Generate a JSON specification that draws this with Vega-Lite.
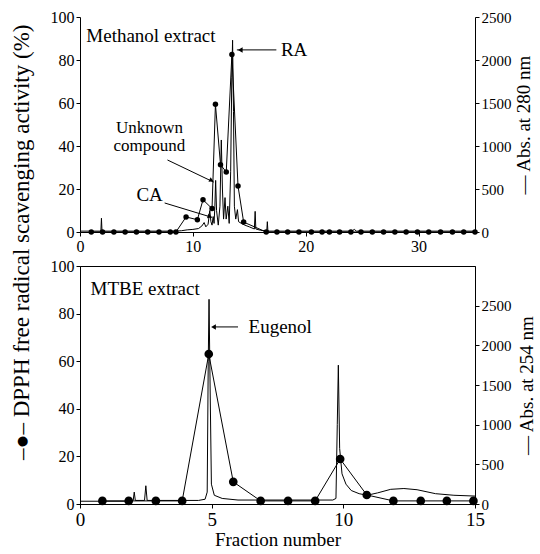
{
  "$schema": "https://vega.github.io/schema/vega-lite/v6.json",
  "background": "white",
  "padding": {"left": 10, "top": 9, "right": 0, "bottom": 0},
  "config": {
    "font": "Liberation Serif",
    "axis": {"domainColor": "black", "tickColor": "black", "labelColor": "black", "titleColor": "black", "grid": false, "labelFont": "Liberation Serif", "titleFont": "Liberation Serif", "labelFontSize": 16, "titleFontSize": 19, "titleFontWeight": "normal", "tickSize": 4},
    "text": {"font": "Liberation Serif", "color": "black"}
  },
  "title": {"text": "–●–  DPPH free radical scavenging activity (%)", "orient": "left", "anchor": "middle", "fontSize": 23, "font": "Liberation Serif", "fontWeight": "normal", "color": "black", "offset": 16, "dx": 37},
  "spacing": 3,
  "datasets": {
    "topAbs": [
      {"x": 0, "abs": 10}, {"x": 1.85, "abs": 10}, {"x": 1.9, "abs": 160}, {"x": 1.95, "abs": 10}, {"x": 8.5, "abs": 10}, {"x": 9.0, "abs": 15}, {"x": 9.5, "abs": 25}, {"x": 10.0, "abs": 30}, {"x": 10.5, "abs": 40}, {"x": 10.8, "abs": 70}, {"x": 11.0, "abs": 110}, {"x": 11.15, "abs": 60}, {"x": 11.35, "abs": 90}, {"x": 11.5, "abs": 250}, {"x": 11.6, "abs": 120}, {"x": 11.7, "abs": 80}, {"x": 11.8, "abs": 180}, {"x": 11.88, "abs": 100}, {"x": 11.95, "abs": 300}, {"x": 12.02, "abs": 600}, {"x": 12.1, "abs": 250}, {"x": 12.25, "abs": 80}, {"x": 12.4, "abs": 300}, {"x": 12.52, "abs": 1070}, {"x": 12.62, "abs": 500}, {"x": 12.72, "abs": 150}, {"x": 12.85, "abs": 400}, {"x": 12.95, "abs": 150}, {"x": 13.1, "abs": 300}, {"x": 13.22, "abs": 100}, {"x": 13.35, "abs": 700}, {"x": 13.45, "abs": 1800}, {"x": 13.52, "abs": 2230}, {"x": 13.6, "abs": 1400}, {"x": 13.68, "abs": 300}, {"x": 13.8, "abs": 150}, {"x": 13.95, "abs": 260}, {"x": 14.05, "abs": 120}, {"x": 14.3, "abs": 100}, {"x": 14.6, "abs": 80}, {"x": 15.0, "abs": 60}, {"x": 15.45, "abs": 35}, {"x": 15.52, "abs": 240}, {"x": 15.58, "abs": 35}, {"x": 16.0, "abs": 20}, {"x": 16.55, "abs": 10}, {"x": 16.6, "abs": 120}, {"x": 16.65, "abs": 10}, {"x": 24.1, "abs": 10}, {"x": 24.3, "abs": 30}, {"x": 24.5, "abs": 10}, {"x": 35, "abs": 10}
    ],
    "topDpph": [
      {"x": 1, "act": 0}, {"x": 2, "act": 0}, {"x": 3, "act": 0}, {"x": 4, "act": 0}, {"x": 5, "act": 0}, {"x": 6, "act": 0}, {"x": 7, "act": 0}, {"x": 8, "act": 0}, {"x": 8.5, "act": 0}, {"x": 9.4, "act": 7}, {"x": 10.4, "act": 5.7}, {"x": 10.9, "act": 15}, {"x": 11.7, "act": 10.9}, {"x": 12.0, "act": 59.4}, {"x": 12.45, "act": 31.3}, {"x": 12.96, "act": 27.9}, {"x": 13.46, "act": 82.6}, {"x": 14.0, "act": 21.4}, {"x": 14.5, "act": 4.6}, {"x": 16.5, "act": 0}, {"x": 17.45, "act": 0}, {"x": 18.4, "act": 0}, {"x": 19.4, "act": 0}, {"x": 20.5, "act": 0}, {"x": 21.45, "act": 0}, {"x": 22.1, "act": 0}, {"x": 23, "act": 0}, {"x": 24, "act": 0}, {"x": 24.9, "act": 0}, {"x": 25.9, "act": 0}, {"x": 26.9, "act": 0}, {"x": 27.9, "act": 0}, {"x": 28.9, "act": 0}, {"x": 29.9, "act": 0}, {"x": 30.9, "act": 0}, {"x": 31.95, "act": 0}, {"x": 33, "act": 0}, {"x": 34, "act": 0}, {"x": 35, "act": 0}
    ],
    "botAbs": [
      {"x": 0, "abs": 35}, {"x": 1.95, "abs": 35}, {"x": 2.02, "abs": 45}, {"x": 2.06, "abs": 150}, {"x": 2.1, "abs": 45}, {"x": 2.45, "abs": 45}, {"x": 2.5, "abs": 230}, {"x": 2.55, "abs": 45}, {"x": 4.5, "abs": 45}, {"x": 4.75, "abs": 60}, {"x": 4.83, "abs": 150}, {"x": 4.87, "abs": 1800}, {"x": 4.9, "abs": 2580}, {"x": 4.94, "abs": 1500}, {"x": 4.99, "abs": 250}, {"x": 5.1, "abs": 110}, {"x": 5.4, "abs": 70}, {"x": 6.0, "abs": 50}, {"x": 9.6, "abs": 50}, {"x": 9.72, "abs": 70}, {"x": 9.77, "abs": 1000}, {"x": 9.81, "abs": 1750}, {"x": 9.86, "abs": 700}, {"x": 9.95, "abs": 380}, {"x": 10.1, "abs": 250}, {"x": 10.3, "abs": 170}, {"x": 10.6, "abs": 130}, {"x": 10.9, "abs": 110}, {"x": 11.3, "abs": 140}, {"x": 11.8, "abs": 185}, {"x": 12.3, "abs": 195}, {"x": 12.8, "abs": 180}, {"x": 13.5, "abs": 130}, {"x": 14.2, "abs": 110}, {"x": 15, "abs": 100}
    ],
    "botDpph": [
      {"x": 0.85, "act": 1.3}, {"x": 1.85, "act": 1.3}, {"x": 2.88, "act": 1.3}, {"x": 3.88, "act": 1.3}, {"x": 4.89, "act": 63}, {"x": 5.82, "act": 9.3}, {"x": 6.86, "act": 1.3}, {"x": 7.9, "act": 1.3}, {"x": 8.93, "act": 1.3}, {"x": 9.88, "act": 18.9}, {"x": 10.89, "act": 3.8}, {"x": 11.9, "act": 1.3}, {"x": 12.94, "act": 1.3}, {"x": 13.93, "act": 1.3}, {"x": 14.94, "act": 1.3}
    ]
  },
  "vconcat": [
    {
      "width": 395, "height": 215,
      "view": {"stroke": null},
      "resolve": {"scale": {"y": "independent"}},
      "layer": [
        {
          "data": {"name": "topAbs"},
          "mark": {"type": "line", "color": "black", "strokeWidth": 1},
          "encoding": {
            "x": {"field": "x", "type": "quantitative", "scale": {"domain": [0, 35], "nice": false, "zero": false}, "axis": {"values": [0, 10, 20, 30], "title": null, "labelFlush": false}},
            "y": {"field": "abs", "type": "quantitative", "scale": {"domain": [0, 2500], "nice": false}, "axis": {"orient": "right", "values": [0, 500, 1000, 1500, 2000, 2500], "format": "d", "labelFontSize": 15, "title": "—   Abs. at 280 nm", "titleAngle": 270, "titleBaseline": "top", "titlePadding": 3, "labelFlush": false}}
          }
        },
        {
          "data": {"name": "topDpph"},
          "mark": {"type": "line", "color": "black", "strokeWidth": 1},
          "encoding": {
            "x": {"field": "x", "type": "quantitative"},
            "y": {"field": "act", "type": "quantitative", "scale": {"domain": [0, 100], "nice": false}, "axis": {"orient": "left", "values": [0, 20, 40, 60, 80, 100], "title": null, "labelFlush": false}}
          }
        },
        {
          "data": {"name": "topDpph"},
          "mark": {"type": "point", "filled": true, "color": "black", "opacity": 1, "size": 30},
          "encoding": {
            "x": {"field": "x", "type": "quantitative"},
            "y": {"field": "act", "type": "quantitative", "scale": {"domain": [0, 100], "nice": false}, "axis": null}
          }
        },
        {
          "data": {"values": [{"x": 0.56, "y": 91, "label": "Methanol extract"}, {"x": 17.8, "y": 84.7, "label": "RA"}, {"x": 5.0, "y": 17.2, "label": "CA"}]},
          "mark": {"type": "text", "align": "left", "baseline": "middle", "fontSize": 19},
          "encoding": {
            "x": {"field": "x", "type": "quantitative"},
            "y": {"field": "y", "type": "quantitative", "scale": {"domain": [0, 100], "nice": false}, "axis": null},
            "text": {"field": "label"}
          }
        },
        {
          "data": {"values": [{"x": 6.15, "y": 48.4, "label": "Unknown"}, {"x": 6.15, "y": 39.8, "label": "compound"}]},
          "mark": {"type": "text", "align": "center", "baseline": "middle", "fontSize": 17},
          "encoding": {
            "x": {"field": "x", "type": "quantitative"},
            "y": {"field": "y", "type": "quantitative", "scale": {"domain": [0, 100], "nice": false}, "axis": null},
            "text": {"field": "label"}
          }
        },
        {
          "data": {"values": [{"x": 17.4, "y": 84.7, "x2": 13.9, "y2": 84.7}, {"x": 7.75, "y": 33.5, "x2": 11.85, "y2": 23.2}, {"x": 7.5, "y": 13.5, "x2": 11.7, "y2": 6.8}]},
          "mark": {"type": "rule", "color": "black", "strokeWidth": 1},
          "encoding": {
            "x": {"field": "x", "type": "quantitative"},
            "x2": {"field": "x2"},
            "y": {"field": "y", "type": "quantitative", "scale": {"domain": [0, 100], "nice": false}, "axis": null},
            "y2": {"field": "y2"}
          }
        },
        {
          "data": {"values": [{"x": 14.2, "y": 84.7}]},
          "mark": {"type": "point", "shape": "triangle-left", "filled": true, "color": "black", "opacity": 1, "size": 30},
          "encoding": {
            "x": {"field": "x", "type": "quantitative"},
            "y": {"field": "y", "type": "quantitative", "scale": {"domain": [0, 100], "nice": false}, "axis": null}
          }
        },
        {
          "data": {"values": [{"x": 11.65, "y": 24.0}]},
          "mark": {"type": "point", "shape": "triangle-right", "angle": 26, "filled": true, "color": "black", "opacity": 1, "size": 25},
          "encoding": {
            "x": {"field": "x", "type": "quantitative"},
            "y": {"field": "y", "type": "quantitative", "scale": {"domain": [0, 100], "nice": false}, "axis": null}
          }
        },
        {
          "data": {"values": [{"x": 11.5, "y": 7.2}]},
          "mark": {"type": "point", "shape": "triangle-right", "angle": 17, "filled": true, "color": "black", "opacity": 1, "size": 25},
          "encoding": {
            "x": {"field": "x", "type": "quantitative"},
            "y": {"field": "y", "type": "quantitative", "scale": {"domain": [0, 100], "nice": false}, "axis": null}
          }
        }
      ]
    },
    {
      "width": 395, "height": 238,
      "view": {"stroke": "black", "strokeWidth": 1},
      "resolve": {"scale": {"y": "independent"}},
      "layer": [
        {
          "data": {"name": "botAbs"},
          "mark": {"type": "line", "color": "black", "strokeWidth": 1},
          "encoding": {
            "x": {"field": "x", "type": "quantitative", "scale": {"domain": [0, 15], "nice": false, "zero": false}, "axis": {"values": [0, 5, 10, 15], "title": "Fraction number", "labelFontSize": 19, "titlePadding": 1, "labelFlush": false}},
            "y": {"field": "abs", "type": "quantitative", "scale": {"domain": [0, 3000], "nice": false}, "axis": {"orient": "right", "values": [0, 500, 1000, 1500, 2000, 2500], "format": "d", "labelFontSize": 15, "title": "—   Abs. at 254 nm", "titleAngle": 270, "titleBaseline": "top", "titlePadding": 6, "labelFlush": false}}
          }
        },
        {
          "data": {"name": "botDpph"},
          "mark": {"type": "line", "color": "black", "strokeWidth": 1},
          "encoding": {
            "x": {"field": "x", "type": "quantitative"},
            "y": {"field": "act", "type": "quantitative", "scale": {"domain": [0, 100], "nice": false}, "axis": {"orient": "left", "values": [0, 20, 40, 60, 80, 100], "title": null, "labelFlush": false}}
          }
        },
        {
          "data": {"name": "botDpph"},
          "mark": {"type": "point", "filled": true, "color": "black", "opacity": 1, "size": 75},
          "encoding": {
            "x": {"field": "x", "type": "quantitative"},
            "y": {"field": "act", "type": "quantitative", "scale": {"domain": [0, 100], "nice": false}, "axis": null}
          }
        },
        {
          "data": {"values": [{"x": 0.4, "y": 90.3, "label": "MTBE extract"}, {"x": 6.4, "y": 74.4, "label": "Eugenol"}]},
          "mark": {"type": "text", "align": "left", "baseline": "middle", "fontSize": 19},
          "encoding": {
            "x": {"field": "x", "type": "quantitative"},
            "y": {"field": "y", "type": "quantitative", "scale": {"domain": [0, 100], "nice": false}, "axis": null},
            "text": {"field": "label"}
          }
        },
        {
          "data": {"values": [{"x": 6.0, "y": 74.4, "x2": 5.05, "y2": 74.4}]},
          "mark": {"type": "rule", "color": "black", "strokeWidth": 1},
          "encoding": {
            "x": {"field": "x", "type": "quantitative"},
            "x2": {"field": "x2"},
            "y": {"field": "y", "type": "quantitative", "scale": {"domain": [0, 100], "nice": false}, "axis": null},
            "y2": {"field": "y2"}
          }
        },
        {
          "data": {"values": [{"x": 5.07, "y": 74.4}]},
          "mark": {"type": "point", "shape": "triangle-left", "filled": true, "color": "black", "opacity": 1, "size": 30},
          "encoding": {
            "x": {"field": "x", "type": "quantitative"},
            "y": {"field": "y", "type": "quantitative", "scale": {"domain": [0, 100], "nice": false}, "axis": null}
          }
        }
      ]
    }
  ]
}
